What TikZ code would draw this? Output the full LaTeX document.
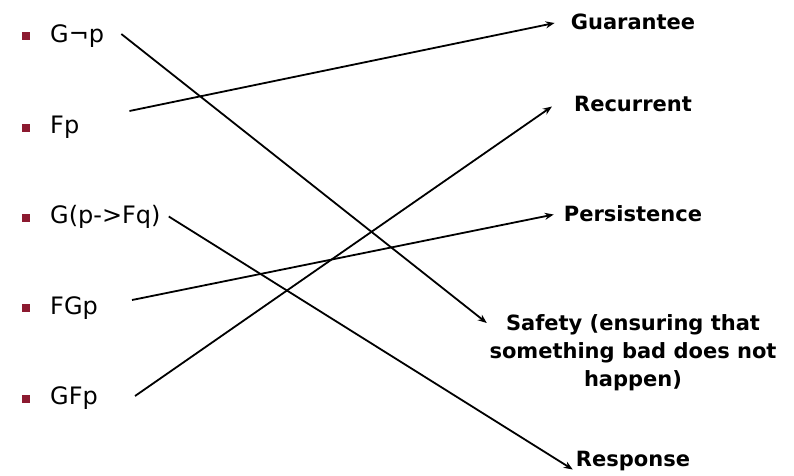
\documentclass[tikz,border=0pt]{standalone}
\usepackage{fontspec}
\setmainfont{DejaVu Sans}
\usetikzlibrary{arrows.meta, positioning}
\definecolor{bulletred}{RGB}{140,26,48}
\tikzset{
    item/.style = {inner sep=0pt, anchor=base west, font=\fontsize{24}{28}\selectfont}, % formulas on the left
    bul/.style = {fill=bulletred, minimum size=8pt, inner sep=0pt},
    kind/.style = {inner sep=0pt, anchor=base, align=center, font=\bfseries\fontsize{21}{28}\selectfont}, % property classes on the right
    link/.style = {line width=1.8pt, -{Stealth[length=9pt, width=7pt]}}
}

\begin{document}
\begin{tikzpicture}[x=1pt, y=-1pt]
    \useasboundingbox (0,0) rectangle (794,475);
    % formulas
    \node[item] (gnp) at (50,42.5) {G¬p};
    \node[item] (fp) at (50,133) {Fp};
    \node[item] (gpf) at (50,223.5) {G(p->Fq)};
    \node[item] (fgp) at (50,314) {FGp};
    \node[item] (gfp) at (50,404.5) {GFp};
    \node[bul] (b1) at ([shift={(-24,-6.5)}]gnp.base west) {};
    \node[bul] (b2) at ([shift={(-24,-5.5)}]fp.base west) {};
    \node[bul] (b3) at ([shift={(-24,-6)}]gpf.base west) {};
    \node[bul] (b4) at ([shift={(-24,-6)}]fgp.base west) {};
    \node[bul] (b5) at ([shift={(-24,-5.5)}]gfp.base west) {};
    % classes
    \node[kind] (guar) at (633,29) {Guarantee};
    \node[kind] (recur) at (633,111.5) {Recurrent};
    \node[kind] (pers) at (633,221.5) {Persistence};
    \node[kind, anchor=north] (safe) at (633,314) {Safety (ensuring that\\something bad does not\\happen)};
    \node[kind] (resp) at (633,466.5) {Response};
    % matching
    \draw[link] ([shift={(17,-8.5)}]gnp.base east) -- ([shift={(-2.5,9)}]safe.north west);
    \draw[link] ([shift={(50,-22)}]fp.base east) -- ([shift={(-16,-6)}]guar.base west);
    \draw[link] ([shift={(8,-7)}]gpf.base east) -- ([shift={(-3,3)}]resp.base west);
    \draw[link] ([shift={(34,-14)}]fgp.base east) -- ([shift={(-10,-7)}]pers.base west);
    \draw[link] ([shift={(37,-8.5)}]gfp.base east) -- ([shift={(-22,-5)}]recur.base west);
\end{tikzpicture}
\end{document}
